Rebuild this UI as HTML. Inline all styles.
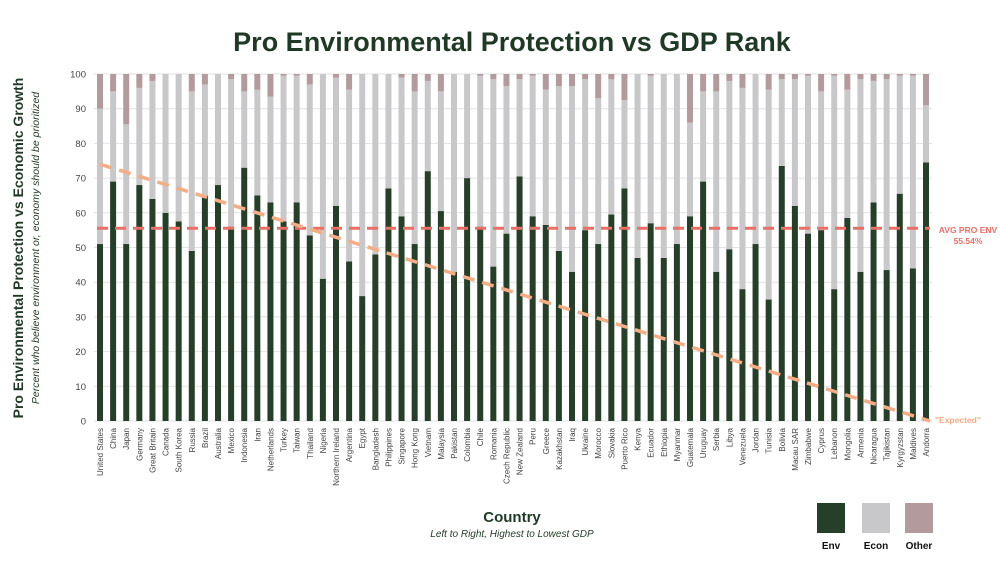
<!DOCTYPE html>
<html><head><meta charset="utf-8"><style>
body{margin:0;background:#fff;}
svg{display:block;font-family:"Liberation Sans",sans-serif;}
</style></head><body>
<svg id="chart" width="1000" height="563" viewBox="0 0 1000 563">
<text x="512" y="51" text-anchor="middle" font-size="27" font-weight="bold" fill="#1f3a24">Pro Environmental Protection vs GDP Rank</text>
<text transform="translate(23,248) rotate(-90)" text-anchor="middle" font-size="14" font-weight="bold" fill="#1f3a24">Pro Environmental Protection vs Economic Growth</text>
<text transform="translate(39,248) rotate(-90)" text-anchor="middle" font-size="10.5" font-style="italic" fill="#1f3a24">Percent who believe environment or, economy should be prioritized</text>
<text x="512" y="522" text-anchor="middle" font-size="15" font-weight="bold" fill="#1f3a24">Country</text>
<text x="512" y="537" text-anchor="middle" font-size="10" font-style="italic" fill="#1f3a24">Left to Right, Highest to Lowest GDP</text>
<g id="grid"></g><g id="bars"></g><g id="xlabels"></g><g id="overlay"></g>
<g>
<rect x="817" y="503" width="28" height="30" fill="#263f29"/>
<rect x="862" y="503" width="28" height="30" fill="#c8c7c9"/>
<rect x="905" y="503" width="28" height="30" fill="#b39a9d"/>
<text x="831" y="549" text-anchor="middle" font-size="10" font-weight="bold" fill="#111">Env</text>
<text x="876" y="549" text-anchor="middle" font-size="10" font-weight="bold" fill="#111">Econ</text>
<text x="919" y="549" text-anchor="middle" font-size="10" font-weight="bold" fill="#111">Other</text>
</g>
</svg>
<script>
const countries=["United States","China","Japan","Germany","Great Britain","Canada","South Korea","Russia","Brazil","Australia","Mexico","Indonesia","Iran","Netherlands","Turkey","Taiwan","Thailand","Nigeria","Northern Ireland","Argentina","Egypt","Bangladesh","Philippines","Singapore","Hong Kong","Vietnam","Malaysia","Pakistan","Colombia","Chile","Romania","Czech Republic","New Zealand","Peru","Greece","Kazakhstan","Iraq","Ukraine","Morocco","Slovakia","Puerto Rico","Kenya","Ecuador","Ethiopia","Myanmar","Guatemala","Uruguay","Serbia","Libya","Venezuela","Jordan","Tunisia","Bolivia","Macau SAR","Zimbabwe","Cyprus","Lebanon","Mongolia","Armenia","Nicaragua","Tajikistan","Kyrgyzstan","Maldives","Andorra"];
const envValues=[51,69,51,68,64,60,57.5,49,65,68,56,73,65,63,57.5,63,53.5,41,62,46,36,48,67,59,51,72,60.5,43,70,56,44.5,54,70.5,59,56.5,49,43,55,51,59.5,67,47,57,47,51,59,69,43,49.5,38,51,35,73.5,62,54,55,38,58.5,43,63,43.5,65.5,44,74.5];
const econValues=[39,26,34.5,28,34,40,42.5,46,32,32,42.5,22,30.5,30.5,42,36.5,43.5,59,37,49.5,64,52,33,40,44,26,34.5,57,30,43.5,54,42.5,28,40.5,39,47.5,53.5,43.5,42,39,25.5,53,42.5,53,49,27,26,52,48.5,58,49,60.5,25,36.5,45.5,40,61.5,37,55.5,35,55,34,55.5,16.5];
const otherValues=[10,5,14.5,4,2,0,0,5,3,0,1.5,5,4.5,6.5,0.5,0.5,3,0,1,4.5,0,0,0,1,5,2,5,0,0,0.5,1.5,3.5,1.5,0.5,4.5,3.5,3.5,1.5,7,1.5,7.5,0,0.5,0,0,14,5,5,2,4,0,4.5,1.5,1.5,0.5,5,0.5,4.5,1.5,2,1.5,0.5,0.5,9];
const yTicks=[0,10,20,30,40,50,60,70,80,90,100];
const avgEnv=55.54;
const expectedStart=74, expectedEnd=0;

const NS="http://www.w3.org/2000/svg";
const x0=100,x1=926,yBase=421,yTop=74;
const xs=i=>x0+i*(x1-x0)/(countries.length-1);
const ys=v=>yBase-v*(yBase-yTop)/100;
function mk(tag,attrs,parent){const e=document.createElementNS(NS,tag);for(const k in attrs)e.setAttribute(k,attrs[k]);parent.appendChild(e);return e;}
const grid=document.getElementById('grid');
yTicks.forEach(t=>{
  const l=mk('line',{x1:94,x2:932,y1:ys(t),y2:ys(t),stroke:'#e2e2e2','stroke-width':1},grid);
  
  
  const tx=mk('text',{x:86,y:ys(t)+3.5,'text-anchor':'end','font-size':9.5,fill:'#444'},grid);
  tx.textContent=t;
  
  
});
const bars=document.getElementById('bars'),xl=document.getElementById('xlabels');
const bw=6;
countries.forEach((c,i)=>{
  const x=xs(i)-bw/2;
  const e=envValues[i],ec=econValues[i],o=otherValues[i];
  const r1=mk('rect',{x:x,y:ys(e),width:bw,height:ys(0)-ys(e),fill:'#263f29'},bars);
  
  
  const r2=mk('rect',{x:x,y:ys(e+ec),width:bw,height:ys(e)-ys(e+ec),fill:'#c8c7c9'},bars);
  
  
  const r3=mk('rect',{x:x,y:ys(e+ec+o),width:bw,height:ys(e+ec)-ys(e+ec+o),fill:'#b39a9d'},bars);
  
  
  const t=mk('text',{transform:`translate(${xs(i)+3},428) rotate(-90)`,'text-anchor':'end','font-size':8,fill:'#444'},xl);
  t.textContent=c;
  
  
});
const ov=document.getElementById('overlay');
const av=mk('line',{x1:97,x2:930,y1:ys(avgEnv),y2:ys(avgEnv),stroke:'#ec6f66','stroke-width':3,'stroke-dasharray':'11,7'},ov);


const ex=mk('line',{x1:x0,x2:x1+4,y1:ys(expectedStart),y2:ys(expectedEnd),stroke:'#f5ad85','stroke-width':3.5,'stroke-dasharray':'12,8'},ov);


const a1=mk('text',{x:968,y:233,'text-anchor':'middle','font-size':8.5,'font-weight':'bold',fill:'#ec6f66'},ov);
a1.textContent='AVG PRO ENV';


const a2=mk('text',{x:968,y:244,'text-anchor':'middle','font-size':8.5,'font-weight':'bold',fill:'#ec6f66'},ov);
a2.textContent=avgEnv.toFixed(2)+'%';


const e1=mk('text',{x:935,y:423,'font-size':8.5,'font-weight':'bold',fill:'#f5ad85'},ov);
e1.textContent='"Expected"';


</script>
</body></html>
